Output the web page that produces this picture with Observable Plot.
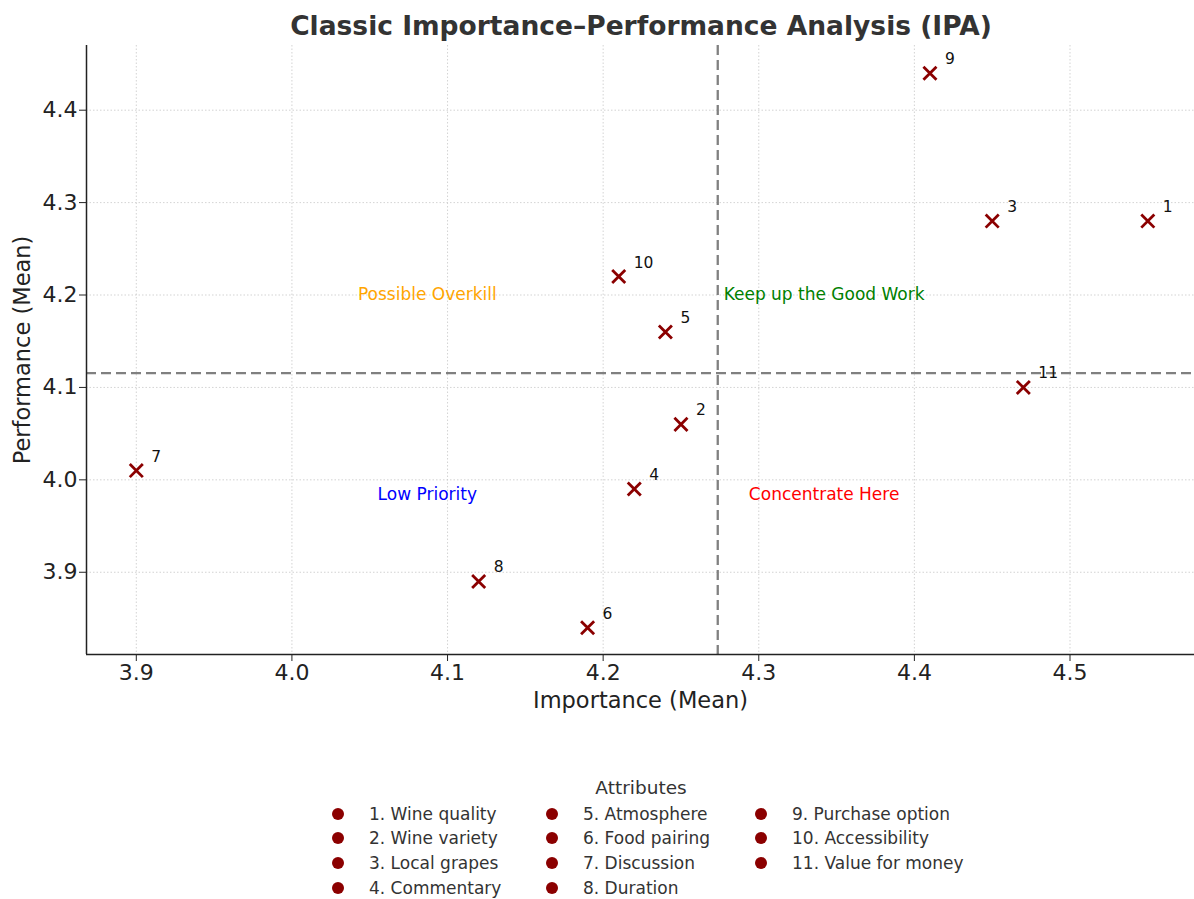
<!DOCTYPE html>
<html>
<head>
<meta charset="utf-8">
<script src="https://cdn.jsdelivr.net/npm/d3@7"></script>
<script src="https://cdn.jsdelivr.net/npm/@observablehq/plot@0.6"></script>
<style>
  html, body { margin: 0; padding: 0; background: #fff; }
  body { width: 1194px; height: 899px; overflow: hidden; font-family: "DejaVu Sans", sans-serif; color: #222; }
  #title { height: 41px; width: 1282px; box-sizing: border-box; padding-top: 10px; text-align: center; font-weight: bold; font-size: 26.5px; line-height: 32px; color: #333; white-space: nowrap; }
  #chart svg { display: block; }
  #legend { position: relative; height: 180px; }
  #legend .ttl { position: absolute; left: 0; width: 1282px; text-align: center; top: 58px; font-size: 18.5px; color: #333; line-height: 22px; }
  #legend .item { position: absolute; font-size: 17px; color: #333; line-height: 20px; white-space: nowrap; }
  #legend .dot { position: absolute; width: 12px; height: 12px; border-radius: 50%; background: #8B0000; }
</style>
</head>
<body>
<div id="title">Classic Importance–Performance Analysis (IPA)</div>
<div id="chart"></div>
<div id="legend"></div>
<script>
const ids = [1, 2, 3, 4, 5, 6, 7, 8, 9, 10, 11];
const names = ["Wine quality", "Wine variety", "Local grapes", "Commentary", "Atmosphere", "Food pairing", "Discussion", "Duration", "Purchase option", "Accessibility", "Value for money"];
const importance = [4.55, 4.25, 4.45, 4.22, 4.24, 4.19, 3.90, 4.12, 4.41, 4.21, 4.47];
const performance = [4.28, 4.06, 4.28, 3.99, 4.16, 3.84, 4.01, 3.89, 4.44, 4.22, 4.10];
const xTicks = [3.9, 4.0, 4.1, 4.2, 4.3, 4.4, 4.5];
const yTicks = [3.9, 4.0, 4.1, 4.2, 4.3, 4.4];
const quadrantNames = ["Possible Overkill", "Keep up the Good Work", "Low Priority", "Concentrate Here"];
const quadrantX = [4.087, 4.342, 4.087, 4.342];
const quadrantY = [4.20, 4.20, 3.984, 3.984];
const quadrantColors = ["#FFA500", "#008000", "#0000FF", "#FF0000"];

const data = ids.map((id, i) => ({id, name: names[i], x: importance[i], y: performance[i]}));
const quads = quadrantNames.map((t, i) => ({t, x: quadrantX[i], y: quadrantY[i], c: quadrantColors[i]}));
const meanX = d3.mean(importance);
const meanY = d3.mean(performance);

const plot = Plot.plot({
  width: 1194,
  height: 678,
  marginLeft: 86,
  marginRight: 0,
  marginTop: 4,
  marginBottom: 65,
  style: {fontFamily: "DejaVu Sans, sans-serif", background: "#fff", color: "#222", overflow: "visible"},
  x: {domain: [3.868, 4.580], ticks: xTicks},
  y: {domain: [3.811, 4.470], ticks: yTicks},
  marks: [
    Plot.gridX(xTicks, {stroke: "#c8c8c8", strokeOpacity: 1, strokeDasharray: "1.5,2", strokeWidth: 0.8}),
    Plot.gridY(yTicks, {stroke: "#c8c8c8", strokeOpacity: 1, strokeDasharray: "1.5,2", strokeWidth: 0.8}),
    Plot.ruleX([meanX], {stroke: "#808080", strokeWidth: 2.3, strokeDasharray: "10,5"}),
    Plot.ruleY([meanY], {stroke: "#808080", strokeWidth: 2.3, strokeDasharray: "10,5"}),
    Plot.axisX(xTicks, {tickFormat: d3.format(".1f"), tickSize: 7, tickPadding: 3, fontSize: 22, stroke: "#222", color: "#222", label: null}),
    Plot.axisY(yTicks, {tickFormat: d3.format(".1f"), tickSize: 7, tickPadding: 2, fontSize: 22, stroke: "#222", color: "#222", label: null}),
    Plot.ruleY([3.811], {stroke: "#222", strokeWidth: 1.5}),
    Plot.ruleX([3.868], {stroke: "#222", strokeWidth: 1.5}),
    Plot.text(["Importance (Mean)"], {frameAnchor: "bottom", dy: 46, fontSize: 22.5, fill: "#222", lineAnchor: "middle"}),
    Plot.text(["Performance (Mean)"], {frameAnchor: "left", dx: -64, rotate: -90, textAnchor: "middle", fontSize: 22.5, fill: "#222"}),
    Plot.text(quads, {x: "x", y: "y", text: "t", fill: "c", fontSize: 17}),
    Plot.dot(data, {x: "x", y: "y", symbol: "times", r: 6, stroke: "#8B0000", strokeWidth: 2.8}),
    Plot.text(data, {x: "x", y: "y", text: d => String(d.id), dx: 15, dy: -14, textAnchor: "start", fontSize: 15.5, fill: "#111"})
  ]
});
document.getElementById("chart").appendChild(plot);

const legend = document.getElementById("legend");
const t = document.createElement("div");
t.className = "ttl"; t.textContent = "Attributes";
legend.appendChild(t);
const colX = [338, 552, 761];
const rowY = [814, 838, 863, 888];
const legendTop = 719;
data.forEach((d, i) => {
  const col = Math.floor(i / 4), row = i % 4;
  const dot = document.createElement("div");
  dot.className = "dot";
  dot.style.left = (colX[col] - 6) + "px";
  dot.style.top = (rowY[row] - legendTop - 6) + "px";
  legend.appendChild(dot);
  const it = document.createElement("div");
  it.className = "item";
  it.style.left = (colX[col] + 31) + "px";
  it.style.top = (rowY[row] - legendTop - 10) + "px";
  it.textContent = d.id + ". " + d.name;
  legend.appendChild(it);
});
</script>
</body>
</html>
